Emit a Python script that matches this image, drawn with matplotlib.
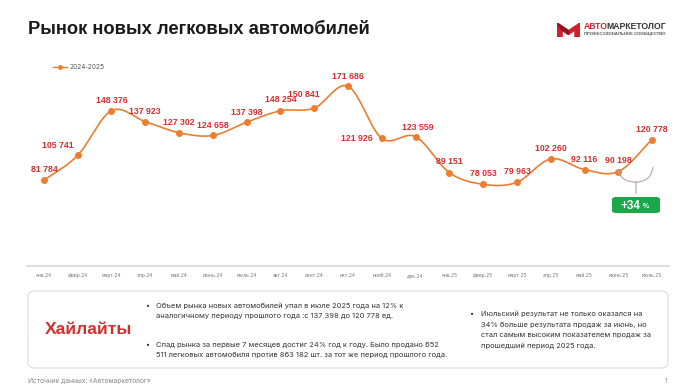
import matplotlib

matplotlib.use("Agg")
import matplotlib.pyplot as plt
import numpy as np
from matplotlib.patches import FancyBboxPatch, Polygon, PathPatch
from matplotlib.path import Path

months = ["янв.24", "февр.24", "март.24", "апр.24", "май.24", "июнь.24", "июль.24",
          "авг.24", "сент.24", "окт.24", "нояб.24", "дек.24", "янв.25", "февр.25",
          "март.25", "апр.25", "май.25", "июнь.25", "июль.25"]
sales = [81784, 105741, 148376, 137923, 127302, 124658, 137398, 148254, 150841,
         171686, 121926, 123559, 89151, 78053, 79963, 102260, 92116, 90198, 120778]
# label offsets in pixels (dx, dy) relative to each point
label_dx = [0, -20, 0, 0, 0, 0, 0, 0, -10, 0, -25, 2, 0, 0, 0, 0, 0, 0, 0]
label_dy = [11, 10, 10, 10, 10, 10, 10, 11, 14, 10, 0, 9, 11, 11, 11, 10, 10, 11, 10]

ORANGE = "#ED7D31"
RED = "#D32F2F"
GREEN = "#1BA84B"
W, H = 696, 392

fig = plt.figure(figsize=(W / 100, H / 100), dpi=100)
fig.patch.set_facecolor("white")


def fx(px):
    return px / W


def fy(py):
    return 1 - py / H


# ---- header
fig.text(fx(28), fy(29), "Рынок новых легковых автомобилей", family="Liberation Sans",
         weight="bold", fontsize=13.2, color="#1a1a1a", va="center")

# logo icon
icon = fig.add_axes([fx(557), fy(37), fx(23), 14 / H])
icon.set_xlim(0, 1)
icon.set_ylim(0, 1)
icon.axis("off")
icon.add_patch(Polygon([(0, 0), (0, 1), (0.5, 0.45), (1, 1), (1, 0), (0.78, 0), (0.78, 0.5),
                        (0.5, 0.18), (0.22, 0.5), (0.22, 0)], closed=True, color="#D0202E"))
icon.add_patch(Polygon([(0.22, 0.5), (0.5, 0.18), (0.5, 0.45), (0, 1)], closed=True, color="#8E1420"))
logo_kw = dict(family="Liberation Sans", weight="bold", fontsize=6.2, va="center")
t1 = fig.text(fx(584), fy(26.5), "АВТО", color="#D0202E", **logo_kw)
fig.canvas.draw()
w1 = t1.get_window_extent().width
fig.text(fx(584 + w1 - 1.5), fy(26.5), "МАРКЕТОЛОГ", color="#333333", **logo_kw)
fig.text(fx(584), fy(34.5), "ПРОФЕССИОНАЛЬНОЕ СООБЩЕСТВО", family="Liberation Sans",
         weight="bold", fontsize=3.1, color="#555555", va="center")

# ---- chart
ax = fig.add_axes([fx(27), fy(266), fx(642), (266 - 65) / H])
x = np.arange(len(sales))
y = np.array(sales, dtype=float)

# smooth (Catmull-Rom) line through the data points
px = np.concatenate([[2 * x[0] - x[1]], x, [2 * x[-1] - x[-2]]])
py = np.concatenate([[2 * y[0] - y[1]], y, [2 * y[-1] - y[-2]]])
t = np.linspace(0, 1, 30)
sx, sy = [], []
for i in range(1, len(px) - 2):
    for arr, out in ((px, sx), (py, sy)):
        p0, p1, p2, p3 = arr[i - 1], arr[i], arr[i + 1], arr[i + 2]
        out.extend(0.5 * ((2 * p1) + (-p0 + p2) * t + (2 * p0 - 5 * p1 + 4 * p2 - p3) * t ** 2
                          + (-p0 + 3 * p1 - 3 * p2 + p3) * t ** 3))
ax.plot(sx, sy, color=ORANGE, lw=1.2, solid_capstyle="round", zorder=2)
ax.plot(x, y, "o", color=ORANGE, ms=4, zorder=3)

for i, v in enumerate(sales):
    ax.annotate(f"{v:,}".replace(",", " "), (i, v), xytext=(label_dx[i], label_dy[i]),
                textcoords="offset pixels", ha="center", va="center", fontsize=6.3,
                weight="bold", color=RED, family="Liberation Sans", zorder=4)

ax.set_xlim(-0.5, len(sales) - 0.5)
ax.set_ylim(0, 192000)
ax.set_xticks(x)
ax.set_xticklabels(months, fontsize=3.4, color="#777777")
ax.tick_params(axis="x", length=0, pad=5)
ax.set_yticks([])
for s in ["top", "right", "left"]:
    ax.spines[s].set_visible(False)
ax.spines["bottom"].set_color("#d9d9d9")
ax.spines["bottom"].set_linewidth(1.2)
ax.patch.set_alpha(0)

# legend
fig.add_artist(plt.Line2D([fx(53), fx(67)], [fy(67), fy(67)], color=ORANGE, lw=1.0,
                          transform=fig.transFigure))
fig.add_artist(plt.Line2D([fx(60)], [fy(67)], color=ORANGE, marker="o", ms=2.5,
                          transform=fig.transFigure))
fig.text(fx(69), fy(67), "2024-2025", fontsize=4.7, color="#555555", va="center",
         family="Liberation Sans Narrow")

# brace between June and July
brace = Path([(fx(618), fy(169)), (fx(620), fy(182)), (fx(636), fy(182)),
              (fx(653), fy(167)), (fx(651), fy(182)), (fx(636), fy(182)),
              (fx(636), fy(182)), (fx(636), fy(194))],
             [Path.MOVETO, Path.CURVE3, Path.CURVE3,
              Path.MOVETO, Path.CURVE3, Path.CURVE3,
              Path.MOVETO, Path.LINETO])
fig.add_artist(PathPatch(brace, fill=False, ec="#B9A3B3", lw=0.8, transform=fig.transFigure))

# green badge
fig.add_artist(FancyBboxPatch((fx(612), fy(213)), fx(48), 16 / H,
                              boxstyle="round,pad=0,rounding_size=0.006", fc=GREEN, ec="none",
                              transform=fig.transFigure))
fig.text(fx(630), fy(205.5), "+34", fontsize=8.5, weight="bold", color="white",
         ha="center", va="center", family="Liberation Sans")
fig.text(fx(646), fy(206), "%", fontsize=5, weight="bold", color="white",
         ha="center", va="center", family="Liberation Sans")

# ---- highlights box
fig.add_artist(FancyBboxPatch((fx(28), fy(368)), fx(640), 77 / H,
                              boxstyle="round,pad=0,rounding_size=0.012", fc="white",
                              ec="#dddddd", lw=0.8, transform=fig.transFigure))
fig.text(fx(45), fy(329), "Хайлайты", fontsize=12.6, weight="bold", color=RED,
         va="center", family="Liberation Sans")

body = dict(fontsize=5.4, color="#333333", va="center", family="Inter")
fig.text(fx(145), fy(306), "•", **body)
fig.text(fx(156), fy(306), "Объем рынка новых автомобилей упал в июле 2025 года на 12% к", **body)
fig.text(fx(156), fy(316), "аналогичному периоду прошлого года :с 137 398 до 120 778 ед.", **body)
fig.text(fx(145), fy(345), "•", **body)
fig.text(fx(156), fy(345), "Спад рынка за первые 7 месяцев достиг 24% год к году. Было продано 652", **body)
fig.text(fx(156), fy(355), "511 легковых автомобиля против 863 182 шт. за тот же период прошлого года.", **body)
fig.text(fx(469), fy(314), "•", **body)
for k, line in enumerate(["Июльский результат не только оказался на",
                          "34% больше результата продаж за июнь, но",
                          "стал самым высоким показателем продаж за",
                          "прошедший период 2025 года."]):
    fig.text(fx(481), fy(314 + k * 10.7), line, **body)

fig.text(fx(28), fy(381), "Источник данных: «Автомаркетолог»", fontsize=4.8, color="#888888",
         va="center", family="Inter")
fig.text(fx(667), fy(381), "1", fontsize=4.8, color="#888888", va="center", ha="right",
         family="Inter")

fig.savefig("out.png", dpi=100)
